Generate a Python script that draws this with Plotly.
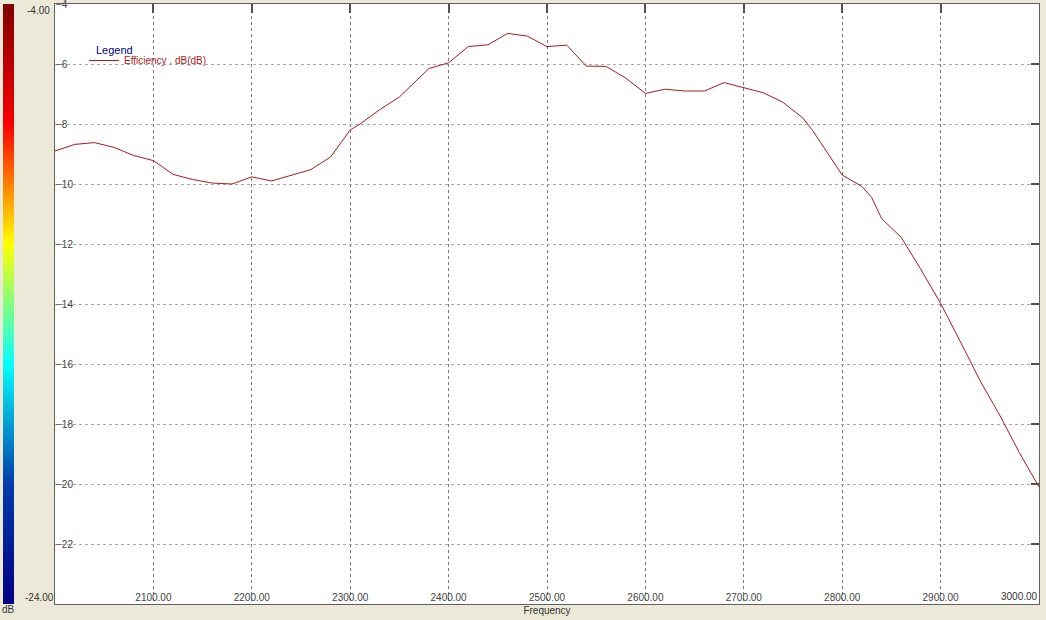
import plotly.graph_objects as go

# frequency (MHz) and efficiency (dB)
freq = [2000, 2020, 2040, 2060, 2080, 2100, 2110, 2120, 2140, 2160, 2180,
        2200, 2220, 2240, 2260, 2280, 2300, 2310, 2330, 2350, 2360, 2380,
        2400, 2420, 2440, 2460, 2480, 2500, 2520, 2540, 2560, 2580, 2600,
        2620, 2640, 2660, 2680, 2700, 2720, 2740, 2760, 2770, 2785, 2800,
        2820, 2830, 2840, 2860, 2880, 2900, 2920, 2940, 2960, 2980, 3000]
eff = [-8.90, -8.68, -8.62, -8.78, -9.05, -9.22, -9.45, -9.68, -9.85, -9.97, -10.00,
       -9.76, -9.90, -9.70, -9.52, -9.10, -8.20, -8.00, -7.52, -7.10, -6.78, -6.15,
       -5.96, -5.42, -5.36, -4.98, -5.07, -5.42, -5.37, -6.07, -6.08, -6.47, -6.98,
       -6.84, -6.90, -6.90, -6.62, -6.80, -6.96, -7.28, -7.80, -8.22, -8.95, -9.70,
       -10.08, -10.45, -11.15, -11.78, -12.85, -13.98, -15.25, -16.55, -17.70, -18.95, -20.10]

x_ticks = [2100, 2200, 2300, 2400, 2500, 2600, 2700, 2800, 2900, 3000]
y_ticks = [-4, -6, -8, -10, -12, -14, -16, -18, -20, -22]
scale_min, scale_max = -24, -4

BEIGE = "#ECE9D8"
FAM = "Liberation Sans, Arial, sans-serif"
font = dict(family=FAM, size=10, color="#333333")

fig = go.Figure()

fig.add_trace(go.Scatter(
    x=freq, y=eff, mode="lines", name="Efficiency . dB(dB)",
    line=dict(color="#a81c1c", width=1),
))

# colour scale strip on the left, top/right tick marks come from x2/y2
fig.add_trace(go.Scatter(
    x=[None], y=[None], xaxis="x2", yaxis="y2", mode="markers", showlegend=False,
    marker=dict(color=[scale_max], colorscale="Jet", cmin=scale_min, cmax=scale_max,
                showscale=True,
                colorbar=dict(xref="container", x=3 / 1046, xanchor="left",
                              yref="paper", y=0.5, yanchor="middle", len=1,
                              thickness=11, xpad=0, ypad=0, outlinewidth=0,
                              showticklabels=False, ticks="")),
))

fig.update_layout(
    width=1046, height=620,
    margin=dict(l=55, r=7, t=4, b=16, autoexpand=False),
    paper_bgcolor=BEIGE, plot_bgcolor="white",
    font=font,
    showlegend=True,
    legend=dict(
        x=(84 - 55) / 984, y=1 - (46 - 4) / 600, xanchor="left", yanchor="top",
        bgcolor="rgba(0,0,0,0)", borderwidth=0,
        font=dict(family=FAM, size=10, color="#a81c1c"),
        itemwidth=30, tracegroupgap=0,
    ),
    xaxis=dict(
        range=[2000, 3000], tickvals=x_ticks[:-1], tickformat=".2f",
        ticklabelposition="inside", ticks="",
        showgrid=True, gridcolor="#7a7a7a", griddash="3px,3px", gridwidth=1,
        showline=True, linecolor="#606060", linewidth=1, mirror=True,
        zeroline=False,
        title=dict(text="Frequency", standoff=4,
                   font=dict(family=FAM, size=10, color="#333333")),
    ),
    yaxis=dict(
        range=[scale_min, scale_max], tickvals=y_ticks,
        ticklabelposition="inside", ticks="", ticklabeloverflow="allow",
        showgrid=True, gridcolor="#a8a8a8", griddash="3px,3px", gridwidth=1,
        showline=True, linecolor="#606060", linewidth=1, mirror=True,
        zeroline=False,
    ),
    xaxis2=dict(
        overlaying="x", side="top", range=[2000, 3000], tickvals=x_ticks,
        ticks="inside", ticklen=9, tickwidth=2, tickcolor="#505050",
        showticklabels=False, showgrid=False, zeroline=False,
    ),
    yaxis2=dict(
        overlaying="y", side="right", range=[scale_min, scale_max], tickvals=y_ticks,
        ticks="inside", ticklen=8, tickwidth=2, tickcolor="#505050",
        showticklabels=False, showgrid=False, zeroline=False,
    ),
)

# last x label sits left of its tick, like the original
fig.add_annotation(xref="x", yref="paper", x=x_ticks[-1], y=0, xanchor="right",
                   yanchor="bottom", text=f"{x_ticks[-1]:.2f}", showarrow=False,
                   borderpad=0, yshift=1)
fig.add_annotation(xref="paper", yref="paper", x=(95 - 55) / 984, y=1 - (50 - 4) / 600,
                   xanchor="left", yanchor="middle", text="Legend", showarrow=False,
                   borderpad=0, font=dict(family=FAM, size=11, color="#000080"))

# colour scale end labels and unit (paper coords: plot area is 984 x 600 px)
fig.add_annotation(xref="paper", yref="y", x=(26 - 55) / 984, y=scale_max, xanchor="left",
                   yanchor="top", text="-4.00", showarrow=False, borderpad=0)
fig.add_annotation(xref="paper", yref="y", x=(24 - 55) / 984, y=scale_min, xanchor="left",
                   yanchor="bottom", text="-24.00", showarrow=False, borderpad=0)
fig.add_annotation(xref="paper", yref="paper", x=(1 - 55) / 984, y=0.002, xanchor="left",
                   yanchor="top", text="dB", showarrow=False, borderpad=0)

fig.write_html("out.html", config={"displayModeBar": False},
               post_script="document.body.style.margin='0';")
